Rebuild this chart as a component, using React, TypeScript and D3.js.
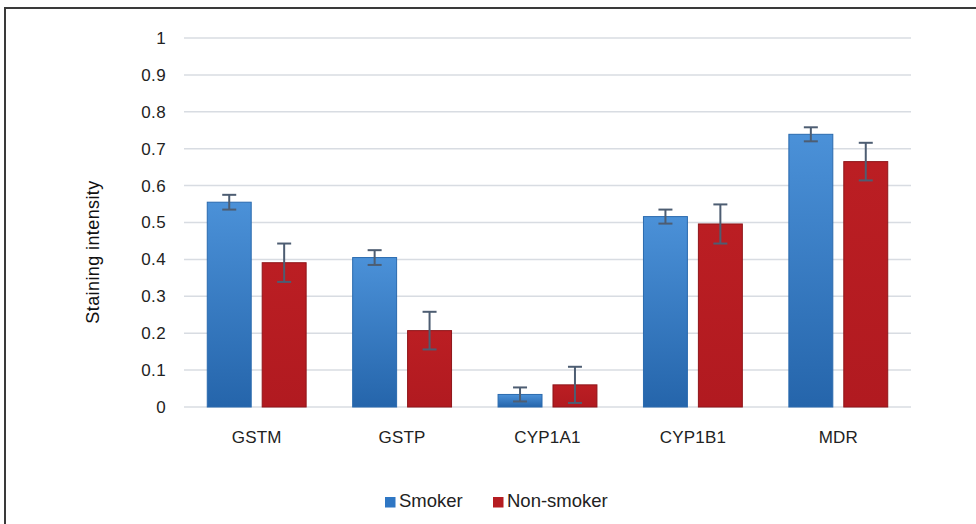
import React, { useEffect, useRef } from 'react';
import * as d3 from 'd3';

const categories = ['GSTM', 'GSTP', 'CYP1A1', 'CYP1B1', 'MDR'];
const seriesNames = ['Smoker', 'Non-smoker'];
const smokerValues = [0.555, 0.405, 0.034, 0.516, 0.739];
const smokerErrors = [0.02, 0.02, 0.019, 0.019, 0.019];
const nonSmokerValues = [0.391, 0.207, 0.06, 0.496, 0.665];
const nonSmokerErrors = [0.052, 0.051, 0.049, 0.053, 0.051];
const yTicks = [0, 0.1, 0.2, 0.3, 0.4, 0.5, 0.6, 0.7, 0.8, 0.9, 1];

const App: React.FC = () => {
  const svgRef = useRef<SVGSVGElement>(null);

  useEffect(() => {
    if (!svgRef.current) return;
    const width = 976;
    const height = 524;
    const svg = d3.select(svgRef.current);
    svg.selectAll('*').remove();
    const font = '"Liberation Sans", Arial, Helvetica, sans-serif';

    const defs = svg.append('defs');
    const blueGrad = defs.append('linearGradient').attr('id', 'blueGrad').attr('x1', 0).attr('y1', 0).attr('x2', 0).attr('y2', 1);
    blueGrad.append('stop').attr('offset', '0%').attr('stop-color', '#4b91d8');
    blueGrad.append('stop').attr('offset', '100%').attr('stop-color', '#2565ab');
    const redGrad = defs.append('linearGradient').attr('id', 'redGrad').attr('x1', 0).attr('y1', 0).attr('x2', 0).attr('y2', 1);
    redGrad.append('stop').attr('offset', '0%').attr('stop-color', '#bb1e23');
    redGrad.append('stop').attr('offset', '100%').attr('stop-color', '#b11a20');

    svg.append('rect').attr('width', width).attr('height', height).attr('fill', '#fff');
    // frame (only top and left edges visible)
    svg.append('rect').attr('x', 5).attr('y', 8).attr('width', width + 10).attr('height', height + 10)
      .attr('fill', 'none').attr('stroke', '#3a3a3a').attr('stroke-width', 2);

    const x0 = d3.scaleBand<string>().domain(categories).range([184, 911]).paddingInner(0.32).paddingOuter(0.16);
    const x1 = d3.scaleBand<string>().domain(seriesNames).range([0, x0.bandwidth()]).paddingInner(0.2);
    const y = d3.scaleLinear().domain([0, 1]).range([407, 38]);

    // grid
    svg.append('g').selectAll('line').data(yTicks).enter().append('line')
      .attr('x1', 184).attr('x2', 911)
      .attr('y1', d => y(d)).attr('y2', d => y(d))
      .attr('stroke', '#d8dce2').attr('stroke-width', 1.5);

    // y tick labels
    svg.append('g').selectAll('text').data(yTicks).enter().append('text')
      .attr('x', 166).attr('y', d => y(d)).attr('dy', '0.35em')
      .attr('text-anchor', 'end').attr('font-family', font).attr('font-size', 17).attr('letter-spacing', 0.4).attr('fill', '#222')
      .text(d => d3.format('~g')(d));

    svg.append('text')
      .attr('transform', 'translate(99,252) rotate(-90)')
      .attr('text-anchor', 'middle').attr('font-family', font).attr('font-size', 18).attr('letter-spacing', 0.4).attr('fill', '#111')
      .text('Staining intensity');

    const series = [
      { name: 'Smoker', values: smokerValues, errors: smokerErrors, fill: 'url(#blueGrad)', stroke: '#2a6aae' },
      { name: 'Non-smoker', values: nonSmokerValues, errors: nonSmokerErrors, fill: 'url(#redGrad)', stroke: '#8f1519' },
    ];

    series.forEach(s => {
      const g = svg.append('g');
      g.selectAll('rect').data(categories).enter().append('rect')
        .attr('x', c => (x0(c) as number) + (x1(s.name) as number))
        .attr('y', (c, i) => y(s.values[i]))
        .attr('width', x1.bandwidth())
        .attr('height', (c, i) => y(0) - y(s.values[i]))
        .attr('fill', s.fill).attr('stroke', s.stroke).attr('stroke-width', 1);

      const eb = g.selectAll('g.err').data(categories).enter().append('g').attr('class', 'err');
      const cx = (c: string) => (x0(c) as number) + (x1(s.name) as number) + x1.bandwidth() / 2;
      eb.append('line')
        .attr('x1', cx).attr('x2', cx)
        .attr('y1', (c, i) => y(s.values[i] + s.errors[i]))
        .attr('y2', (c, i) => y(s.values[i] - s.errors[i]))
        .attr('stroke', '#4d5d72').attr('stroke-width', 2);
      [1, -1].forEach(sign => {
        eb.append('line')
          .attr('x1', c => cx(c) - 7).attr('x2', c => cx(c) + 7)
          .attr('y1', (c, i) => y(s.values[i] + sign * s.errors[i]))
          .attr('y2', (c, i) => y(s.values[i] + sign * s.errors[i]))
          .attr('stroke', '#4d5d72').attr('stroke-width', 2);
      });
    });

    // category labels
    svg.append('g').selectAll('text').data(categories).enter().append('text')
      .attr('x', c => (x0(c) as number) + x0.bandwidth() / 2).attr('y', 443)
      .attr('text-anchor', 'middle').attr('font-family', font).attr('font-size', 17).attr('letter-spacing', 0.2).attr('fill', '#222')
      .text(c => c);

    // legend
    const legendItems = [
      { name: 'Smoker', x: 385, fill: '#2f77c4' },
      { name: 'Non-smoker', x: 493, fill: '#b51c21' },
    ];
    const lg = svg.append('g');
    legendItems.forEach(item => {
      lg.append('rect').attr('x', item.x).attr('y', 497).attr('width', 10.5).attr('height', 10.5).attr('fill', item.fill);
      lg.append('text').attr('x', item.x + 14).attr('y', 507)
        .attr('font-family', font).attr('font-size', 18.5).attr('fill', '#222').text(item.name);
    });
  }, []);

  return (
    <svg ref={svgRef} width={976} height={524} style={{ position: 'absolute', left: 0, top: 0 }}></svg>
  );
};

export default App;
